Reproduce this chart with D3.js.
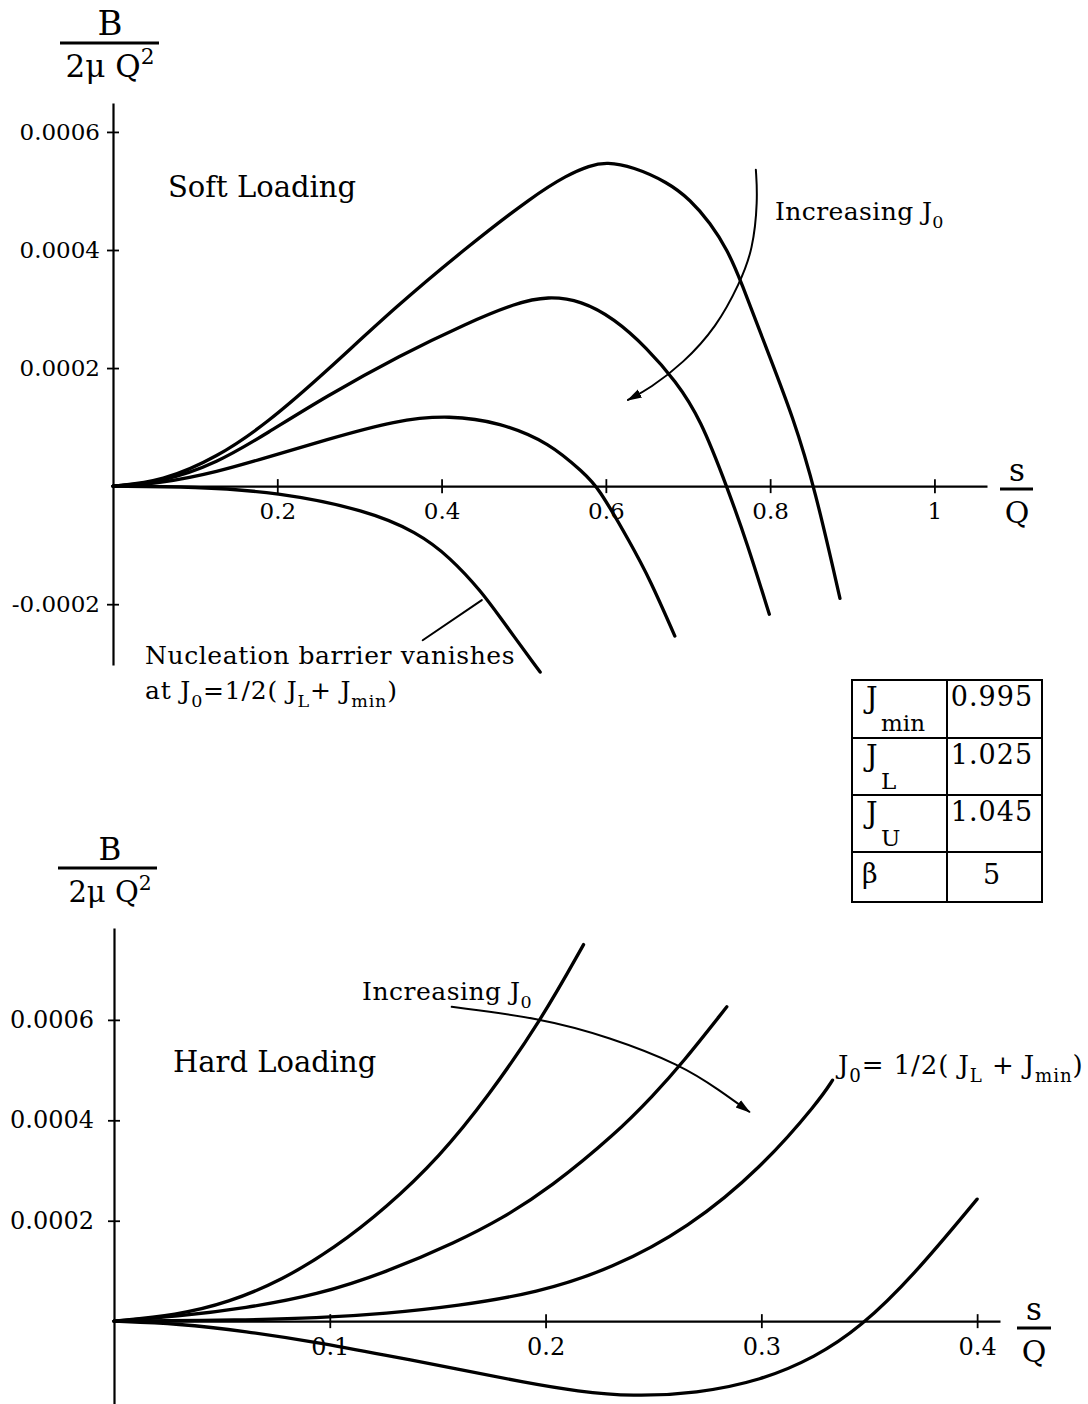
<!DOCTYPE html>
<html>
<head>
<meta charset="utf-8">
<script src="https://cdn.jsdelivr.net/npm/d3@7"></script>
<style>
  body { margin: 0; background: #fff; }
  svg { display: block; }
  text { white-space: pre; fill: #000; }
</style>
</head>
<body>
<div id="chart"></div>
<script>
// soft loading curves, points are [s/Q, B/(2 mu Q^2)]
var soft1 = [[0, 0], [0.06, 0.000008], [0.127, 0.000049], [0.188, 0.000107], [0.258, 0.000192],
  [0.345, 0.000305], [0.431, 0.000405], [0.512, 0.000492], [0.553, 0.000527], [0.58, 0.000543],
  [0.601, 0.000549], [0.633, 0.000541], [0.675, 0.000515], [0.703, 0.000485], [0.727, 0.000446],
  [0.748, 0.0004], [0.764, 0.000349], [0.796, 0.000231], [0.828, 0.000117], [0.855, -0.000007],
  [0.885, -0.00019]];
var soft2 = [[0, 0], [0.06, 0.000007], [0.127, 0.000039], [0.188, 0.00009], [0.258, 0.000151],
  [0.35, 0.000222], [0.431, 0.000276], [0.49, 0.00031], [0.53, 0.000322], [0.57, 0.000314],
  [0.61, 0.000284], [0.65, 0.000234], [0.685, 0.000178], [0.715, 0.000115], [0.749, -0.000007],
  [0.772, -0.0000966], [0.799, -0.000217]];
var soft3 = [[0, 0], [0.06, 0.000005], [0.127, 0.000024], [0.188, 0.000049], [0.258, 0.000078],
  [0.345, 0.000112], [0.41, 0.00012], [0.471, 0.000108], [0.532, 0.000073], [0.573, 0.000022],
  [0.59, 0], [0.63, -0.0000966], [0.654, -0.000159], [0.684, -0.000254]];
var soft4 = [[0, 0], [0.1, -0.000001], [0.2, -0.00001], [0.309, -0.000041], [0.37, -0.000078],
  [0.41, -0.00012], [0.45, -0.000181], [0.471, -0.000222], [0.52, -0.000315]];

// hard loading curves
var hard1 = [[0, 0], [0.029, 0.000012], [0.053, 0.000037], [0.078, 0.000082], [0.102, 0.000145],
  [0.126, 0.000225], [0.151, 0.000328], [0.173, 0.000445], [0.198, 0.0006], [0.2176, 0.00075]];
var hard2 = [[0, 0], [0.029, 0.000009], [0.061, 0.000026], [0.094, 0.000052], [0.126, 0.000097],
  [0.159, 0.000158], [0.18, 0.000205], [0.202, 0.000265], [0.233, 0.000375], [0.25, 0.00045],
  [0.263, 0.000512], [0.284, 0.000626]];
var hard3 = [[0, 0], [0.06, 0.000002], [0.094, 0.000006], [0.126, 0.000015], [0.159, 0.00003],
  [0.196, 0.000056], [0.231, 0.000105], [0.266, 0.000185], [0.3, 0.000305], [0.327, 0.00044],
  [0.333, 0.00048]];
var hard4 = [[0, 0], [0.03, -0.000005], [0.061, -0.00002], [0.094, -0.000042], [0.126, -0.000068],
  [0.159, -0.000095], [0.19, -0.000122], [0.215, -0.00014], [0.24, -0.00015], [0.27, -0.000144],
  [0.3, -0.000118], [0.325, -0.000072], [0.346, -0.000012], [0.37, 0.000088], [0.4, 0.000243]];

// annotation arrows, in data units
var softArrow = [[0.7826, 0.000536], [0.785, 0.000485], [0.779, 0.0004], [0.763, 0.000344],
  [0.735, 0.00027], [0.694, 0.000208], [0.654, 0.000166], [0.627, 0.000146]];
var softPointer = [[0.377, -0.000261], [0.449, -0.000193]];
var hardArrow = [[0.1565, 0.000626], [0.197, 0.000604], [0.2296, 0.000566], [0.263, 0.00051],
  [0.2806, 0.00046], [0.2944, 0.000417]];

// ticks
var softXTicks = [0.2, 0.4, 0.6, 0.8, 1];
var softXLabels = ["0.2", "0.4", "0.6", "0.8", "1"];
var softYTicks = [-0.0002, 0.0002, 0.0004, 0.0006];
var softYLabels = ["-0.0002", "0.0002", "0.0004", "0.0006"];
var hardXTicks = [0.1, 0.2, 0.3, 0.4];
var hardXLabels = ["0.1", "0.2", "0.3", "0.4"];
var hardYTicks = [0.0002, 0.0004, 0.0006];
var hardYLabels = ["0.0002", "0.0004", "0.0006"];

// parameter table
var tableNames = [["J", "min"], ["J", "L"], ["J", "U"], ["\u03b2", ""]];
var tableValues = ["0.995", "1.025", "1.045", "5"];

var font = '"DejaVu Serif", "Liberation Serif", serif';

var svg = d3.select("#chart")
    .append("svg")
    .attr("width", 1088)
    .attr("height", 1404)
    .attr("font-family", font);

svg.append("defs").append("marker")
    .attr("id", "head")
    .attr("viewBox", "0 0 10 10")
    .attr("refX", 9)
    .attr("refY", 5)
    .attr("markerWidth", 15)
    .attr("markerHeight", 15)
    .attr("markerUnits", "userSpaceOnUse")
    .attr("orient", "auto")
    .append("path")
    .attr("d", "M0,2 L10,5 L0,8 Z")
    .attr("fill", "#000");

var softX = d3.scaleLinear().domain([0, 1.064]).range([113, 987]);
var softY = d3.scaleLinear().domain([-0.000303, 0.000649]).range([665, 103]);
var hardX = d3.scaleLinear().domain([0, 0.4106]).range([114, 1000]);
var hardY = d3.scaleLinear().domain([-0.000165, 0.000783]).range([1404, 928]);

function drawAxes(x, y, xTicks, xLabels, yTicks, yLabels, gap, size) {
  var gx = svg.append("g")
      .attr("transform", `translate(0, ${y(0)})`)
      .call(d3.axisBottom(x).tickValues(xTicks).tickFormat((d, i) => xLabels[i]).tickSizeOuter(0));
  gx.selectAll(".tick line").attr("y1", -7).attr("y2", 7);
  gx.selectAll(".tick text").attr("y", 17);

  var gy = svg.append("g")
      .attr("transform", `translate(${x(0)}, 0)`)
      .call(d3.axisLeft(y).tickValues(yTicks).tickFormat((d, i) => yLabels[i]).tickSizeOuter(0));
  gy.selectAll(".tick line").attr("x1", 6).attr("x2", -6);
  gy.selectAll(".tick text").attr("x", -gap);

  [gx, gy].forEach(function(g) {
    g.attr("font-family", font).attr("font-size", size);
    g.select(".domain").attr("stroke-width", 2.2);
    g.selectAll(".tick line").attr("stroke-width", 1.8);
  });
}

function drawCurve(data, x, y, width, marker) {
  var line = d3.line()
      .x(d => x(d[0]))
      .y(d => y(d[1]))
      .curve(d3.curveBasis);
  var p = svg.append("path")
      .datum(data)
      .attr("d", line)
      .attr("fill", "none")
      .attr("stroke", "#000")
      .attr("stroke-width", width)
      .attr("stroke-linecap", "round");
  if (marker) p.attr("marker-end", "url(#head)");
}

// text with sub/superscripts, parts are [text, "sub"|"sup"|""]
function richText(x, y, size, parts, anchor, spacing) {
  var t = svg.append("text")
      .attr("x", x)
      .attr("y", y)
      .attr("font-size", size)
      .attr("letter-spacing", spacing || 0)
      .attr("text-anchor", anchor || "start");
  var shift = 0;
  parts.forEach(function(p) {
    var target = p[1] === "sub" ? size * 0.32 : p[1] === "sup" ? -size * 0.42 : 0;
    t.append("tspan")
        .attr("dy", target - shift)
        .attr("font-size", p[1] ? size * 0.7 : size)
        .text(p[0]);
    shift = target;
  });
  return t;
}

function fracLabel(cx, lineY, x1, x2, top, topSize, bottom, size) {
  svg.append("text").attr("x", cx).attr("y", lineY - 8).attr("text-anchor", "middle")
      .attr("font-size", topSize).text(top);
  svg.append("line").attr("x1", x1).attr("x2", x2).attr("y1", lineY).attr("y2", lineY)
      .attr("stroke", "#000").attr("stroke-width", 3);
  richText(cx, lineY + 34, size, bottom, "middle");
}

// ---- soft loading panel ----
drawAxes(softX, softY, softXTicks, softXLabels, softYTicks, softYLabels, 13, 23);
[soft1, soft2, soft3, soft4].forEach(d => drawCurve(d, softX, softY, 3.3));
drawCurve(softArrow, softX, softY, 2, true);
drawCurve(softPointer, softX, softY, 2);

fracLabel(110, 43, 60, 159, "B", 34, [["2\u03bc Q", ""], ["2", "sup"]], 31);
fracLabel(1017, 489, 1000, 1033, "s", 31, [["Q", ""]], 30);

svg.append("text").attr("x", 168).attr("y", 197).attr("font-size", 29).text("Soft Loading");
richText(775, 220, 25, [["Increasing J", ""], ["0", "sub"]], "start", 0.4);
svg.append("text").attr("x", 145).attr("y", 664).attr("font-size", 25)
    .attr("letter-spacing", 0.6).text("Nucleation barrier vanishes");
richText(145, 699, 25, [["at J", ""], ["0", "sub"], ["=1/2( J", ""], ["L", "sub"], ["+ J", ""], ["min", "sub"], [")", ""]], "start", 0.8);

// ---- parameter table ----
var rowHeights = [58, 57, 57, 50];
var rowTops = [680];
rowHeights.forEach((h, i) => rowTops.push(rowTops[i] + h));
var table = svg.append("g").attr("stroke", "#000").attr("stroke-width", 2);
table.append("rect").attr("x", 852).attr("y", 680).attr("width", 190).attr("height", 222)
    .attr("fill", "none");
table.append("line").attr("x1", 947).attr("x2", 947).attr("y1", 680).attr("y2", 902);
rowTops.slice(1, 4).forEach(function(t) {
  table.append("line").attr("x1", 852).attr("x2", 1042).attr("y1", t).attr("y2", t);
});
tableNames.forEach(function(n, i) {
  var top = rowTops[i];
  if (n[1]) {
    svg.append("text").attr("x", 866).attr("y", top + 28).attr("font-size", 29).text(n[0]);
    svg.append("text").attr("x", 881).attr("y", top + 51).attr("font-size", 23).text(n[1]);
  } else {
    svg.append("text").attr("x", 862).attr("y", top + 31).attr("font-size", 27).text(n[0]);
  }
  svg.append("text").attr("x", 992).attr("y", top + (n[1] ? 26 : 32)).attr("text-anchor", "middle")
      .attr("font-size", 27).attr("letter-spacing", 1).text(tableValues[i]);
});

// ---- hard loading panel ----
drawAxes(hardX, hardY, hardXTicks, hardXLabels, hardYTicks, hardYLabels, 20, 24);
[hard1, hard2, hard3, hard4].forEach(d => drawCurve(d, hardX, hardY, 3.3));
drawCurve(hardArrow, hardX, hardY, 2, true);

fracLabel(110, 868, 58, 157, "B", 31, [["2\u03bc Q", ""], ["2", "sup"]], 29);
fracLabel(1034, 1328, 1017, 1051, "s", 31, [["Q", ""]], 30);

svg.append("text").attr("x", 173).attr("y", 1072).attr("font-size", 29).text("Hard Loading");
richText(362, 1000, 25, [["Increasing J", ""], ["0", "sub"]], "start", 0.5);
richText(838, 1074, 26, [["J", ""], ["0", "sub"], ["= 1/2( J", ""], ["L", "sub"], [" + J", ""], ["min", "sub"], [")", ""]], "start", 0.9);
</script>
</body>
</html>
